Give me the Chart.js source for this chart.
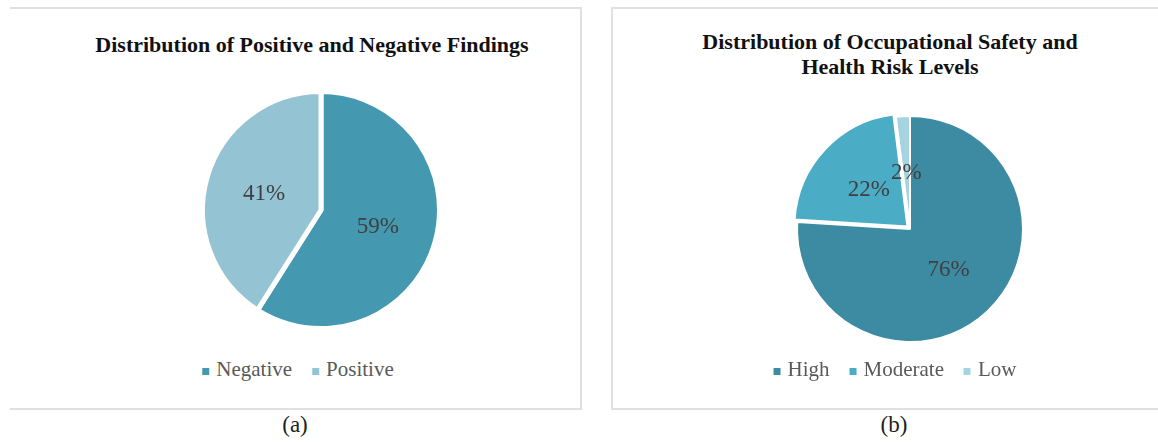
<!DOCTYPE html>
<html>
<head>
<meta charset="utf-8">
<script src="https://cdn.jsdelivr.net/npm/chart.js@4"></script>
<style>
  html, body { margin:0; padding:0; background:#fff; }
  body { width:1158px; height:443px; position:relative; overflow:hidden; font-family:"Liberation Serif", "Times New Roman", serif; }
  .panel { position:absolute; box-sizing:border-box; border:2px solid #e0e0e0; }
  #panelA { left:10px; top:7px; width:572px; height:403px; border-left:none; }
  #panelB { left:611px; top:7px; width:600px; height:403px; border-right:none; }
  .title { position:absolute; font-weight:bold; font-size:22px; color:#111; white-space:nowrap; text-align:center; transform:translateX(-50%); }
  .legend { position:absolute; font-size:21px; line-height:24px; color:#595959; white-space:nowrap; transform:translateX(-50%); }
  .legend .item { display:inline-block; margin:0 10px; }
  .legend .sw { display:inline-block; width:7px; height:7px; margin-right:7px; vertical-align:1px; }
  .caption { position:absolute; font-size:23px; line-height:26px; color:#222; transform:translateX(-50%); white-space:nowrap; }
  canvas { position:absolute; }
</style>
</head>
<body>
<div class="panel" id="panelA"></div>
<div class="panel" id="panelB"></div>
<div class="title" id="titleA" style="left:312px; top:34px; line-height:22px;"></div>
<div class="title" id="titleB" style="left:890px; top:29px; line-height:25px;"></div>
<canvas id="pieA" width="260" height="260" style="left:191px; top:80px;"></canvas>
<canvas id="pieB" width="260" height="260" style="left:780px; top:99px;"></canvas>
<div class="legend" id="legendA" style="left:298px; top:357px;"></div>
<div class="legend" id="legendB" style="left:895px; top:357px;"></div>
<div class="caption" id="capA" style="left:295px; top:412px;"></div>
<div class="caption" id="capB" style="left:894px; top:412px;"></div>
<script>
// ---- data ----
const findingLabels = ['Negative', 'Positive'];
const findingValues = [59, 41];
const riskLabels = ['High', 'Moderate', 'Low'];
const riskValues = [76, 22, 2];
const titleA = ['Distribution of Positive and Negative Findings'];
const titleB = ['Distribution of Occupational Safety and', 'Health Risk Levels'];
const captions = ['(a)', '(b)'];

// ---- styles ----
const findingColors = ['#4499B0', '#94C3D4'];
const riskColors = ['#3D8BA3', '#4BACC6', '#A6D3E0'];

document.getElementById('titleA').innerHTML = titleA.join('<br>');
document.getElementById('titleB').innerHTML = titleB.join('<br>');
document.getElementById('capA').textContent = captions[0];
document.getElementById('capB').textContent = captions[1];

function buildLegend(id, labels, colors) {
  const el = document.getElementById(id);
  labels.forEach((lab, i) => {
    const item = document.createElement('span');
    item.className = 'item';
    const sw = document.createElement('span');
    sw.className = 'sw';
    sw.style.background = colors[i];
    item.appendChild(sw);
    item.appendChild(document.createTextNode(lab));
    el.appendChild(item);
  });
}
buildLegend('legendA', findingLabels, findingColors);
buildLegend('legendB', riskLabels, riskColors);

const pctLabels = {
  id: 'pctLabels',
  afterDatasetsDraw(chart) {
    const ctx = chart.ctx;
    const ds = chart.data.datasets[0];
    const meta = chart.getDatasetMeta(0);
    const total = ds.data.reduce((a, b) => a + b, 0);
    ctx.save();
    ctx.font = '23px "Liberation Serif", serif';
    ctx.fillStyle = '#404040';
    ctx.textAlign = 'center';
    ctx.textBaseline = 'middle';
    meta.data.forEach((arc, i) => {
      const p = arc.getProps(['x', 'y', 'startAngle', 'endAngle', 'outerRadius'], true);
      const mid = (p.startAngle + p.endAngle) / 2;
      const r = p.outerRadius * 0.5;
      const txt = Math.round(ds.data[i] / total * 100) + '%';
      ctx.fillText(txt, p.x + Math.cos(mid) * r, p.y + Math.sin(mid) * r);
    });
    ctx.restore();
  }
};

const baseOptions = {
  responsive: false,
  animation: false,
  events: [],
  layout: { padding: 0 },
  plugins: { legend: { display: false }, title: { display: false }, tooltip: { enabled: false } }
};

new Chart(document.getElementById('pieA'), {
  type: 'pie',
  data: {
    labels: findingLabels,
    datasets: [{
      data: findingValues,
      backgroundColor: findingColors,
      borderColor: '#ffffff',
      borderWidth: 5,
      radius: 118.5
    }]
  },
  options: baseOptions,
  plugins: [pctLabels]
});

new Chart(document.getElementById('pieB'), {
  type: 'pie',
  data: {
    labels: riskLabels,
    datasets: [{
      data: riskValues,
      backgroundColor: riskColors,
      borderColor: '#ffffff',
      borderWidth: 2,
      radius: 113,
      offset: [0, 14, 0]
    }]
  },
  options: baseOptions,
  plugins: [pctLabels]
});
</script>
</body>
</html>
